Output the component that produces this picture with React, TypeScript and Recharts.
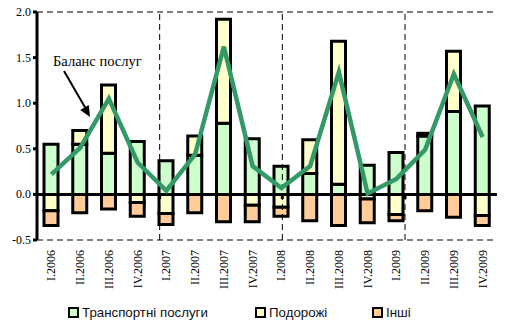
import React from 'react';
import { ComposedChart, Bar, Line, XAxis, YAxis, CartesianGrid, ReferenceLine } from 'recharts';

const categories = ['I.2006','II.2006','III.2006','IV.2006','I.2007','II.2007','III.2007','IV.2007','I.2008','II.2008','III.2008','IV.2008','I.2009','II.2009','III.2009','IV.2009'];
const transport = [0.55,0.55,0.45,0.58,0.37,0.43,0.78,0.61,0.31,0.23,0.11,0.32,0.46,0.64,0.91,0.97];
const travel = [-0.18,0.15,0.75,-0.09,-0.21,0.21,1.14,-0.12,-0.14,0.37,1.57,-0.05,-0.22,0.03,0.66,-0.23];
const other = [-0.16,-0.20,-0.16,-0.15,-0.12,-0.20,-0.30,-0.18,-0.10,-0.29,-0.34,-0.26,-0.07,-0.18,-0.25,-0.11];
const balance = [0.22,0.51,1.05,0.35,0.04,0.44,1.62,0.31,0.07,0.31,1.34,0.01,0.17,0.49,1.32,0.63];
const yTicks = [-0.5,0,0.5,1,1.5,2];
const yearBounds = [4,8,12,16];
const seriesNames = ['Транспортні послуги','Подорожі','Інші'];
const annotation = 'Баланс послуг';

const data = categories.map((c, i) => ({ cat: c, idx: i, transport: transport[i], travel: travel[i], other: other[i], balance: balance[i] }));

const COLORS = { transport: '#ccffcc', travel: '#ffffcc', other: '#ffcc99', line: '#339966' };
const SERIF = 'Liberation Serif';

const XTick = (props: any) => {
  const { x, y, payload } = props;
  return (
    <text x={x} y={y} transform={`rotate(-90 ${x} ${y})`} textAnchor="end" dominantBaseline="central"
      style={{ fontFamily: SERIF, fontSize: 12 }} fill="#000">{payload.value}</text>
  );
};

const YTick = (props: any) => {
  const { x, y, payload } = props;
  return (
    <text x={x} y={y} textAnchor="end" dominantBaseline="central" style={{ fontFamily: SERIF, fontSize: 12 }} fill="#000">
      {Number(payload.value).toFixed(1)}
    </text>
  );
};

const legendColors = [COLORS.transport, COLORS.travel, COLORS.other];
const legendLeft = [68, 255, 372];

export default function App() {
  return (
    <div style={{ position: 'absolute', left: 0, top: 0, width: 520, height: 330, background: '#fff' }}>
      <ComposedChart width={520} height={330} data={data} stackOffset="sign"
        margin={{ top: 12, right: 23, left: 0, bottom: 35 }}>
        <CartesianGrid vertical={false} stroke="#000" strokeDasharray="6 4" />
        <XAxis xAxisId="c" dataKey="cat" type="category" height={55} axisLine={false} tickLine={false}
          tickSize={0} tickMargin={10} interval={0} tick={<XTick />} />
        <XAxis xAxisId="n" type="number" domain={[0, 16]} hide allowDataOverflow />
        <YAxis yAxisId="y" width={37} domain={[-0.5, 2]} ticks={yTicks} interval={0}
          axisLine={{ stroke: '#000', strokeWidth: 3 }} tickLine={{ stroke: '#000', strokeWidth: 3 }} tickSize={4}
          tickMargin={2} tick={<YTick />} />
        {yearBounds.map((b) => (
          <ReferenceLine key={'v' + b} xAxisId="n" yAxisId="y" x={b} stroke="#000" strokeDasharray="6 4" />
        ))}
        <Bar xAxisId="c" yAxisId="y" dataKey="transport" stackId="s" fill={COLORS.transport} stroke="#000" strokeWidth={3} barSize={14} isAnimationActive={false} />
        <Bar xAxisId="c" yAxisId="y" dataKey="travel" stackId="s" fill={COLORS.travel} stroke="#000" strokeWidth={3} barSize={14} isAnimationActive={false} />
        <Bar xAxisId="c" yAxisId="y" dataKey="other" stackId="s" fill={COLORS.other} stroke="#000" strokeWidth={3} barSize={14} isAnimationActive={false} />
        <ReferenceLine xAxisId="c" yAxisId="y" y={0} stroke="#000" strokeWidth={3} />
        {yearBounds.map((b) => (
          <ReferenceLine key={'t' + b} xAxisId="n" yAxisId="y" segment={[{ x: b, y: 0 }, { x: b, y: -0.05 }]} stroke="#000" strokeWidth={3} />
        ))}
        <Line xAxisId="c" yAxisId="y" dataKey="balance" type="linear" stroke={COLORS.line} strokeWidth={4.5} dot={false} isAnimationActive={false} />
      </ComposedChart>
      <svg width={520} height={330} style={{ position: 'absolute', left: 0, top: 0, pointerEvents: 'none' }}>
        <text x={53} y={66} style={{ fontFamily: SERIF, fontSize: 14.5 }} fill="#000">{annotation}</text>
        <line x1={64} y1={71} x2={86} y2={109} stroke="#000" strokeWidth={2} />
        <polygon points="90,117 80.2,110 88.8,105" fill="#000" />
      </svg>
      {seriesNames.map((n, i) => (
        <div key={n} style={{ position: 'absolute', left: legendLeft[i], top: 305, display: 'flex', alignItems: 'center', fontFamily: "'Liberation Sans', Arial, sans-serif", fontSize: 13.3, color: '#111', whiteSpace: 'nowrap' }}>
          <span style={{ display: 'inline-block', width: 7, height: 7, border: '2.5px solid #000', background: legendColors[i], marginRight: 3 }} />
          <span>{n}</span>
        </div>
      ))}
    </div>
  );
}
